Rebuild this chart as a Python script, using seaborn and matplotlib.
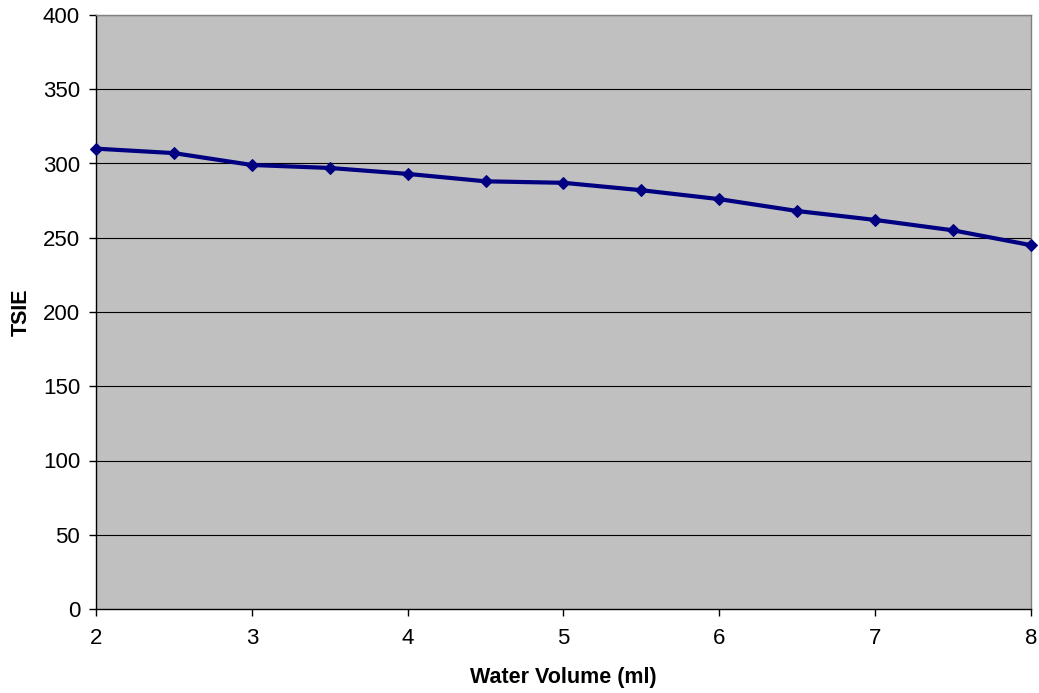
import matplotlib
matplotlib.use("Agg")
import matplotlib.pyplot as plt
import seaborn as sns
import pandas as pd

water_volume = [2, 2.5, 3, 3.5, 4, 4.5, 5, 5.5, 6, 6.5, 7, 7.5, 8]
tsie = [310, 307, 299, 297, 293, 288, 287, 282, 276, 268, 262, 255, 245]
x_ticks = [2, 3, 4, 5, 6, 7, 8]
y_ticks = [0, 50, 100, 150, 200, 250, 300, 350, 400]

sns.set_theme(style="white")
plt.rcParams['font.family'] = ['Liberation Sans', 'DejaVu Sans']

df = pd.DataFrame({"Water Volume (ml)": water_volume, "TSIE": tsie})

fig = plt.figure(figsize=(10.39, 6.93), dpi=100)
ax = fig.add_axes([96/1039, 1 - 609/693, (1031-96)/1039, (609-15)/693])
ax.set_facecolor("#C0C0C0")

for yv in y_ticks[1:]:
    ax.axhline(yv, color="black", linewidth=0.8, zorder=1)

sns.lineplot(data=df, x="Water Volume (ml)", y="TSIE", ax=ax, color="#000080",
             linewidth=3, marker="D", markersize=6, markeredgecolor="#000080",
             zorder=3, clip_on=False)

ax.set_xlim(2, 8)
ax.set_ylim(0, 400)
ax.set_xticks(x_ticks)
ax.set_yticks(y_ticks)
ax.tick_params(axis="both", direction="out", length=5, width=1, color="black",
               labelsize=16, colors="black", bottom=True, left=True)
ax.tick_params(axis="x", pad=9)
ax.tick_params(axis="y", pad=6.5)

for side in ["left", "bottom"]:
    ax.spines[side].set_color("black")
    ax.spines[side].set_linewidth(1)
for side in ["top", "right"]:
    ax.spines[side].set_visible(True)
    ax.spines[side].set_color("#808080")
    ax.spines[side].set_linewidth(1)

ax.set_xlabel("Water Volume (ml)", fontsize=15.5, fontweight="bold", labelpad=13, color="black")
ax.set_ylabel("TSIE", fontsize=15.5, fontweight="bold", labelpad=8, color="black")

fig.savefig("out.png", dpi=100, facecolor="white")
